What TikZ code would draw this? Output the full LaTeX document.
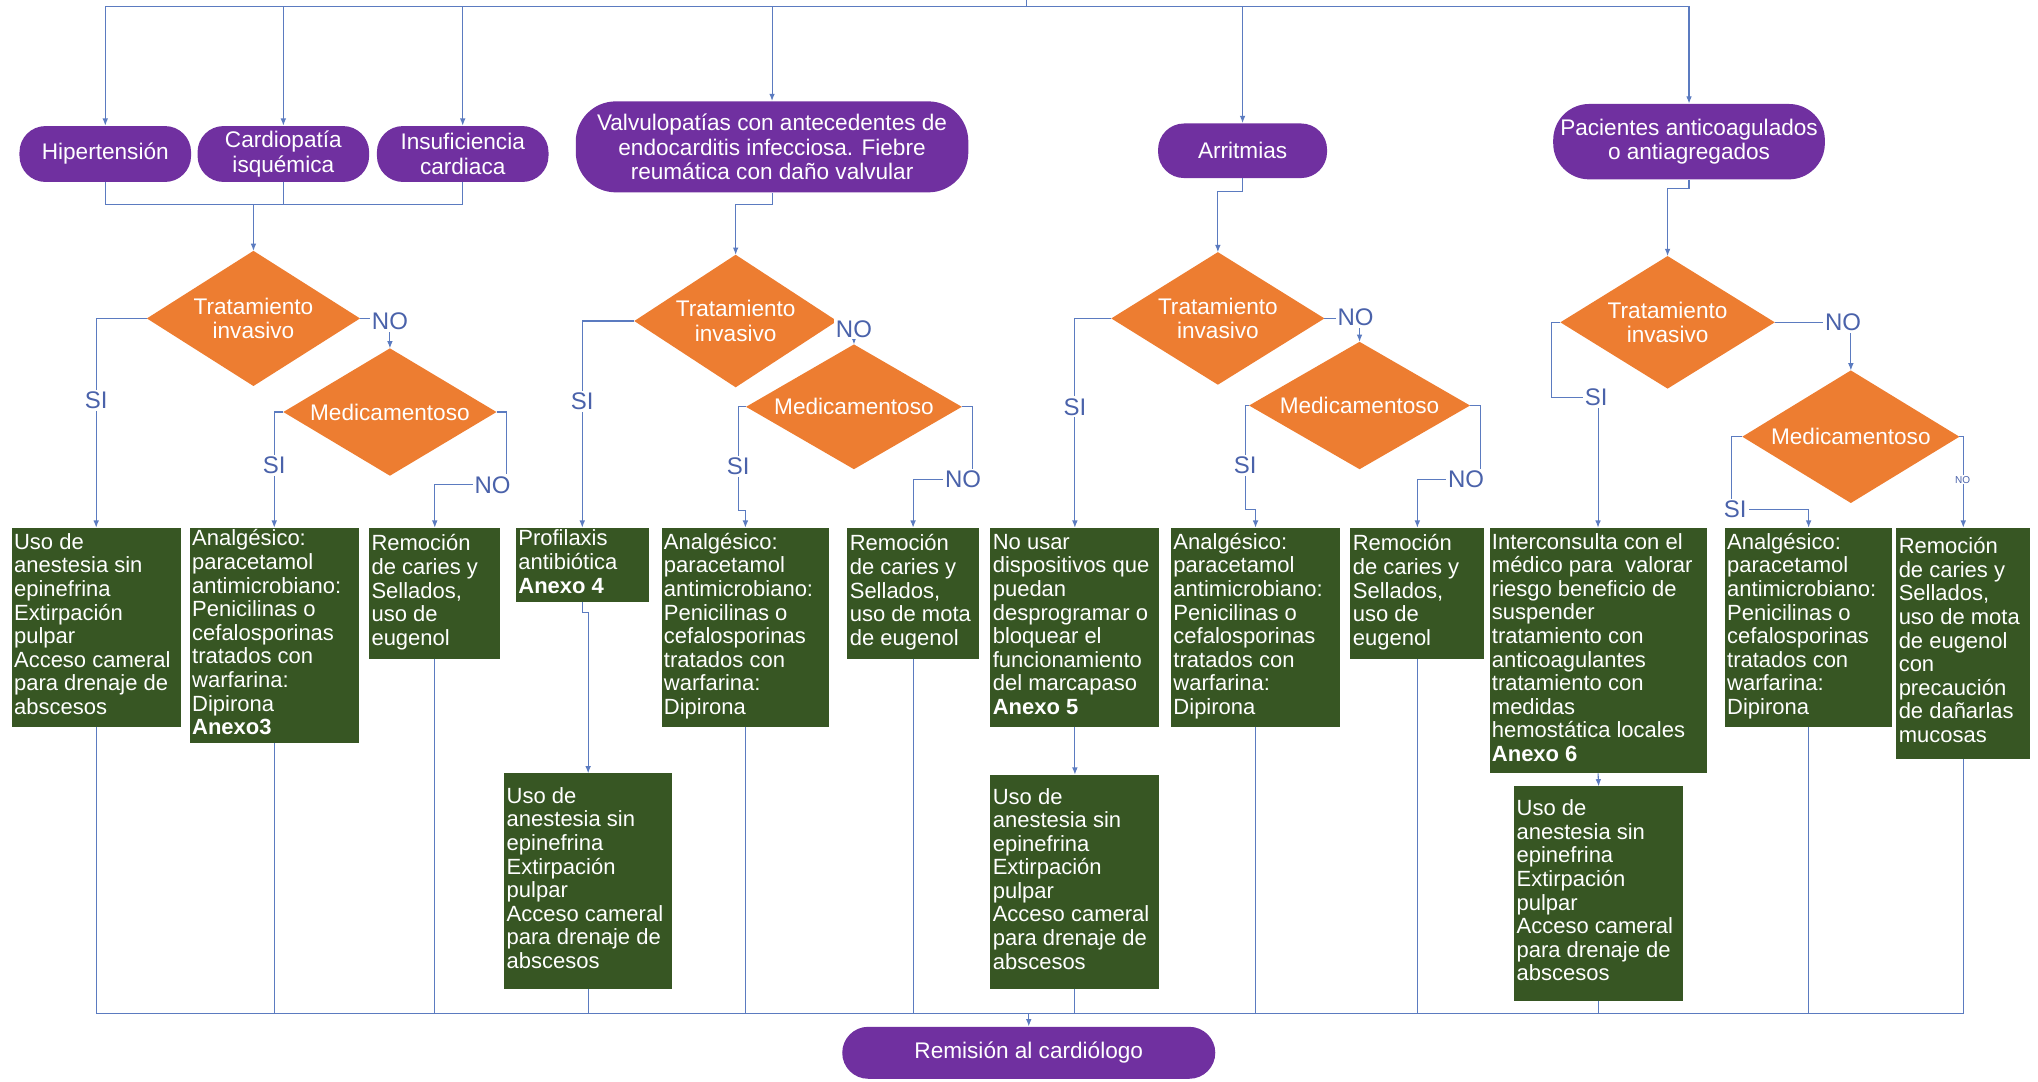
\documentclass[tikz,border=0pt]{standalone}
\usepackage{fontspec}
\setmainfont{Liberation Sans}
\usetikzlibrary{shapes.geometric,arrows.meta}
\definecolor{purp}{HTML}{7030A0}
\definecolor{orng}{HTML}{ED7D31}
\definecolor{gdark}{HTML}{375623}
\definecolor{wire}{HTML}{5B7BC0}
\definecolor{lblc}{HTML}{4A62AA}
\newlength\uu \setlength\uu{0.65pt}
% lines of a box, never rewrapped
\newcommand\lns[1]{\begin{tabular}[t]{@{}l@{}}#1\end{tabular}}
% green box: name, left, top, width, height, lines
\newcommand\gbox[6]{\node[gbox] (#1) at (#2,#3) {\parbox[c][\dimexpr\uu*#5-2.4pt\relax][c]{\dimexpr\uu*#4-2.4pt\relax}{\lns{#6}}};}
\tikzset{
  conn/.style={draw=wire, line width=0.55pt},
  arr/.style={conn, -{Latex[length=3.6pt,width=2.8pt]}},
  pill/.style={fill=purp, text=white, align=center, font=\fontsize{11.3}{12.2}\selectfont, inner sep=0pt},
  gbox/.style={anchor=north west, fill=gdark, text=white, inner sep=1.2pt, outer sep=0pt, font=\fontsize{11}{11.8}\selectfont},
  tdiam/.style={diamond, fill=orng, inner sep=0pt, outer sep=0pt},
  dtxt/.style={text=white, align=center, font=\fontsize{11.3}{12.2}\selectfont},
  yn/.style={fill=white, text=lblc, inner sep=1pt, font=\fontsize{12}{12}\selectfont},
  ynsmall/.style={fill=white, text=lblc, inner sep=0.5pt, font=\fontsize{5}{5}\selectfont},
}
\begin{document}
\begin{tikzpicture}[x=0.65pt, y=-0.65pt]
\useasboundingbox (0,0) rectangle (1568,832);

% conditions
\node[pill, minimum width=132*\uu, minimum height=43*\uu, rounded corners=13pt] (hip) at (81,118.5) {Hipertensión};
\node[pill, minimum width=132*\uu, minimum height=43*\uu, rounded corners=13pt] (card) at (218,118.5) {Cardiopatía\\isquémica};
\node[pill, minimum width=132*\uu, minimum height=43*\uu, rounded corners=13pt] (insuf) at (356,118.5) {Insuficiencia\\cardiaca};
\node[pill, minimum width=302*\uu, minimum height=70*\uu, rounded corners=20pt] (valv) at (594,113) {Valvulopatías con antecedentes de\\endocarditis infecciosa. Fiebre\\reumática con daño valvular};
\node[pill, minimum width=130*\uu, minimum height=42*\uu, rounded corners=13pt] (arrit) at (956,116) {Arritmias};
\node[pill, minimum width=209*\uu, minimum height=58*\uu, rounded corners=18pt] (pac) at (1299.5,109) {Pacientes anticoagulados\\o antiagregados};
\node[pill, minimum width=287*\uu, minimum height=40*\uu, rounded corners=13pt] (rem) at (791.5,810) {Remisión al cardiólogo};

% decisions
\node[tdiam, minimum width=164*\uu, minimum height=104*\uu, label={[dtxt]center:Tratamiento\\invasivo}] (dA) at (195,245) {};
\node[tdiam, minimum width=164*\uu, minimum height=98*\uu, label={[dtxt]center:Medicamentoso}] (mA) at (300,317) {};
\node[tdiam, minimum width=156*\uu, minimum height=102*\uu, label={[dtxt]center:Tratamiento\\invasivo}] (dB) at (566,247) {};
\node[tdiam, minimum width=166*\uu, minimum height=96*\uu, label={[dtxt]center:Medicamentoso}] (mB) at (657,313) {};
\node[tdiam, minimum width=164*\uu, minimum height=102*\uu, label={[dtxt]center:Tratamiento\\invasivo}] (dC) at (937,245) {};
\node[tdiam, minimum width=170*\uu, minimum height=98*\uu, label={[dtxt]center:Medicamentoso}] (mC) at (1046,312) {};
\node[tdiam, minimum width=165*\uu, minimum height=102*\uu, label={[dtxt]center:Tratamiento\\invasivo}] (dD) at (1283,248) {};
\node[tdiam, minimum width=167*\uu, minimum height=102*\uu, label={[dtxt]center:Medicamentoso}] (mD) at (1424,336) {};

% actions
\gbox{A1}{9}{406}{130}{153}{Uso de\\anestesia sin\\epinefrina\\Extirpación\\pulpar\\Acceso cameral\\para drenaje de\\abscesos}
\gbox{A2}{146}{406}{130}{166}{Analgésico:\\paracetamol\\antimicrobiano:\\Penicilinas o\\cefalosporinas\\tratados con\\warfarina:\\Dipirona\\\textbf{Anexo3}}
\gbox{A3}{284}{406}{101}{101}{Remoción\\de caries y\\Sellados,\\uso de\\eugenol}
\gbox{B1}{397}{406}{102}{57}{Profilaxis\\antibiótica\\\textbf{Anexo 4}}
\gbox{Blow}{388}{595}{129}{166}{Uso de\\anestesia sin\\epinefrina\\Extirpación\\pulpar\\Acceso cameral\\para drenaje de\\abscesos}
\gbox{B2}{509}{406}{129}{153}{Analgésico:\\paracetamol\\antimicrobiano:\\Penicilinas o\\cefalosporinas\\tratados con\\warfarina:\\Dipirona}
\gbox{B3}{652}{406}{101}{101}{Remoción\\de caries y\\Sellados,\\uso de mota\\de eugenol}
\gbox{C1}{762}{406}{130}{153}{No usar\\dispositivos que\\puedan\\desprogramar o\\bloquear el\\funcionamiento\\del marcapaso\\\textbf{Anexo 5}}
\gbox{Clow}{762}{596}{130}{165}{Uso de\\anestesia sin\\epinefrina\\Extirpación\\pulpar\\Acceso cameral\\para drenaje de\\abscesos}
\gbox{C2}{901}{406}{130}{153}{Analgésico:\\paracetamol\\antimicrobiano:\\Penicilinas o\\cefalosporinas\\tratados con\\warfarina:\\Dipirona}
\gbox{C3}{1039}{406}{103}{101}{Remoción\\de caries y\\Sellados,\\uso de\\eugenol}
\gbox{D1}{1146}{406}{167}{189}{Interconsulta con el\\médico para\ \ valorar\\riesgo beneficio de\\suspender\\tratamiento con\\anticoagulantes\\tratamiento con\\medidas\\hemostática locales\\\textbf{Anexo 6}}
\gbox{Dlow}{1165}{605}{130}{165}{Uso de\\anestesia sin\\epinefrina\\Extirpación\\pulpar\\Acceso cameral\\para drenaje de\\abscesos}
\gbox{D2}{1327}{406}{129}{153}{Analgésico:\\paracetamol\\antimicrobiano:\\Penicilinas o\\cefalosporinas\\tratados con\\warfarina:\\Dipirona}
\gbox{D3}{1459}{406}{103}{178}{Remoción\\de caries y\\Sellados,\\uso de mota\\de eugenol\\con\\precaución\\de dañarlas\\mucosas}

% top distribution
\coordinate (src) at (790,0);
\coordinate (bus) at (790,5);
\draw[conn] (src) -- (bus);
\foreach \n in {hip,card,insuf,valv,arrit,pac} \draw[arr] (bus) -| (\n.north);

\coordinate (jA) at (195,157);
\draw[conn] (hip.south) |- (jA);
\draw[conn] (insuf.south) |- (jA);
\draw[conn] (card.south) -- (card.south |- jA);
\draw[arr] (jA) -- (dA.north);
\draw[arr] (valv.south) -- ++(0,9) -| (dB.north);
\draw[arr] (arrit.south) -- ++(0,10) -| (dC.north);
\draw[arr] (pac.south) -- ++(0,7) -| (dD.north);

% branch A
\draw[arr] (dA.west) -| (A1.north);
\node[yn] (siA) at (74,308) {SI};
\draw[arr] (dA.east) -| (mA.north);
\node[yn] (noA) at (300,247) {NO};
\draw[arr] (mA.west) -| (A2.north);
\node[yn] (siA2) at (211,358) {SI};
\draw[arr] (mA.east) -- ++(8,0) -- ++(0,56) -| (A3.north);
\node[yn] (noA2) at (379,373) {NO};

% branch B
\draw[arr] (dB.west) -| (B1.north);
\node[yn] (siB) at (448,309) {SI};
\draw[arr] (dB.east) -| (mB.north);
\node[yn] (noB) at (657,253) {NO};
\draw[arr] (mB.west) -- ++(-6,0) -- ++(0,80) -| (B2.north);
\node[yn] (siB2) at (568,359) {SI};
\draw[arr] (mB.east) -- ++(8,0) -- ++(0,56) -| (B3.north);
\node[yn] (noB2) at (741,369) {NO};

% branch C
\draw[arr] (dC.west) -| (C1.north);
\node[yn] (siC) at (827,313) {SI};
\draw[arr] (dC.east) -| (mC.north);
\node[yn] (noC) at (1043,244) {NO};
\draw[arr] (mC.west) -- ++(-3,0) -- ++(0,80) -| (C2.north);
\node[yn] (siC2) at (958,358) {SI};
\draw[arr] (mC.east) -- ++(8,0) -- ++(0,57) -| (C3.north);
\node[yn] (noC2) at (1128,369) {NO};

% branch D
\draw[arr] (dD.west) -- ++(-6.5,0) -- ++(0,58) -| (D1.north);
\node[yn] (siD) at (1228,306) {SI};
\draw[arr] (dD.east) -| (mD.north);
\node[yn] (noD) at (1418,248) {NO};
\draw[arr] (mD.west) -- ++(-8.5,0) -- ++(0,56) -| (D2.north);
\node[yn] (siD2) at (1335,392) {SI};
\draw[arr] (mD.east) -| (D3.north);
\node[ynsmall] (noD2) at (1510,369) {NO};

% follow-up steps
\draw[arr] (B1.south) -- ++(0,8) -| (Blow.north);
\draw[arr] (C1.south) -- (Clow.north);
\draw[arr] (D1.south) -- (Dlow.north);

% collection to referral
\coordinate (jB) at (791.5,780);
\foreach \n in {A1,A2,A3,Blow,B2,B3,Clow,C2,C3,Dlow,D2,D3} \draw[conn] (\n.south) |- (jB);
\draw[arr] (jB) -- (rem.north);
\end{tikzpicture}
\end{document}
